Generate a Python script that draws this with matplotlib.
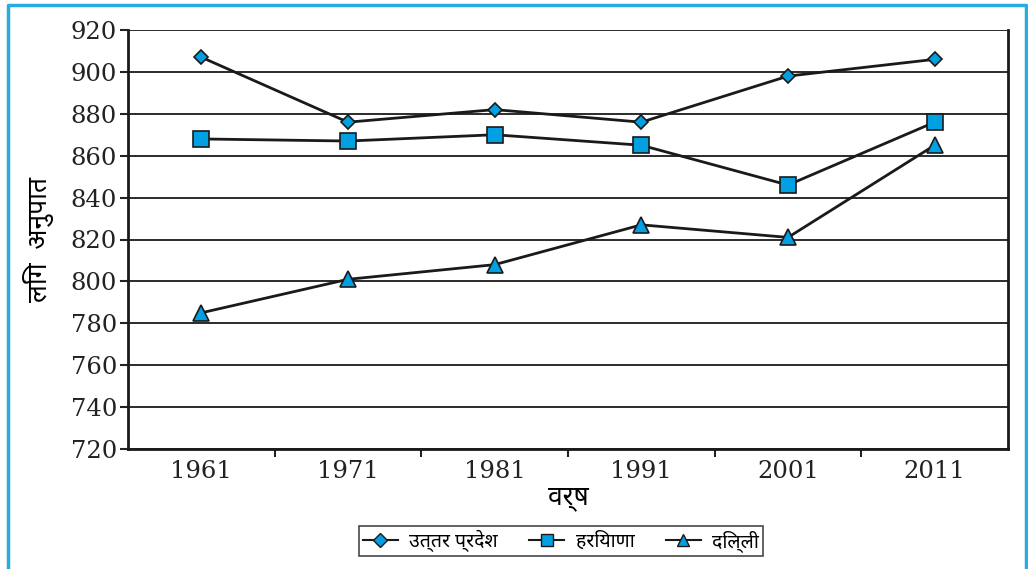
import matplotlib
matplotlib.use("Agg")
import matplotlib.pyplot as plt
from matplotlib.lines import Line2D

# जनगणना वर्ष और लिंग अनुपात
years = ["1961", "1971", "1981", "1991", "2001", "2011"]
uttar_pradesh = [907, 876, 882, 876, 898, 906]
haryana = [868, 867, 870, 865, 846, 876]
delhi = [785, 801, 808, 827, 821, 865]
series_names = ["उत्तर प्रदेश", "हरियाणा", "दिल्ली"]
y_ticks = list(range(720, 921, 20))

hindi = ["Noto Sans Devanagari", "DejaVu Sans"]
num_font = "DejaVu Serif"
blue = "#00a0e3"
dark = "#1a1a1a"

fig = plt.figure(figsize=(10.28, 5.69), dpi=100)
ax = fig.add_axes([128 / 1028, 1 - 449 / 569, 880 / 1028, 419 / 569])

x = range(len(years))
ax.plot(x, uttar_pradesh, color=dark, lw=2, marker="D", ms=7,
        mfc=blue, mec=dark, mew=1.2, zorder=3)
ax.plot(x, haryana, color=dark, lw=2, marker="s", ms=11,
        mfc=blue, mec=dark, mew=1.2, zorder=3)
ax.plot(x, delhi, color=dark, lw=2, marker="^", ms=11,
        mfc=blue, mec=dark, mew=1.2, zorder=3)

ax.set_xlim(-0.5, len(years) - 0.5)
ax.set_ylim(720, 920)
ax.set_yticks(y_ticks)
ax.set_yticklabels([str(v) for v in y_ticks], fontsize=17.5, family=num_font, color="#222222")
# श्रेणियों के बीच टिक, लेबल बीच में
ax.set_xticks([i + 0.5 for i in range(len(years) - 1)])
ax.set_xticklabels([])
ax.set_xticks(list(x), minor=True)
ax.set_xticklabels(years, minor=True, fontsize=17.5, family=num_font, color="#222222")
ax.tick_params(axis="x", which="major", length=6, width=1.5, direction="out", colors="#222222")
ax.tick_params(axis="x", which="minor", length=0, pad=8)
ax.tick_params(axis="y", length=6, width=1.5, direction="out", pad=2, colors="#222222")
ax.grid(axis="y", color=dark, lw=1.3)
for side in ["left", "bottom", "right"]:
    ax.spines[side].set_linewidth(2)
    ax.spines[side].set_color(dark)
ax.spines["top"].set_visible(False)
ax.set_axisbelow(True)

ax.set_ylabel("लिंग  अनुपात", fontsize=19, family=hindi, fontweight="bold", labelpad=12)
ax.set_xlabel("वर्ष", fontsize=19, family=hindi, fontweight="bold", labelpad=0)

handles = [
    Line2D([], [], color=dark, lw=1.5, marker="D", ms=7, mfc=blue, mec=dark),
    Line2D([], [], color=dark, lw=1.5, marker="s", ms=9, mfc=blue, mec=dark),
    Line2D([], [], color=dark, lw=1.5, marker="^", ms=9, mfc=blue, mec=dark),
]
leg = fig.legend(handles, series_names, loc="center", bbox_to_anchor=(561 / 1028, 1 - 541 / 569),
                 ncol=3, frameon=True, fancybox=False, edgecolor=dark,
                 prop={"family": hindi, "size": 14}, handlelength=1.8, handletextpad=0.6,
                 columnspacing=1.6, borderpad=0.2)
leg.get_frame().set_linewidth(1.2)

# नीली बाहरी रेखा
fig.add_artist(plt.Line2D([8 / 1028, 8 / 1028, 1026 / 1028, 1026 / 1028],
                          [0, 1 - 5 / 569, 1 - 5 / 569, 0], color="#29aae1", lw=2.5))

fig.savefig("out.png", dpi=100)
